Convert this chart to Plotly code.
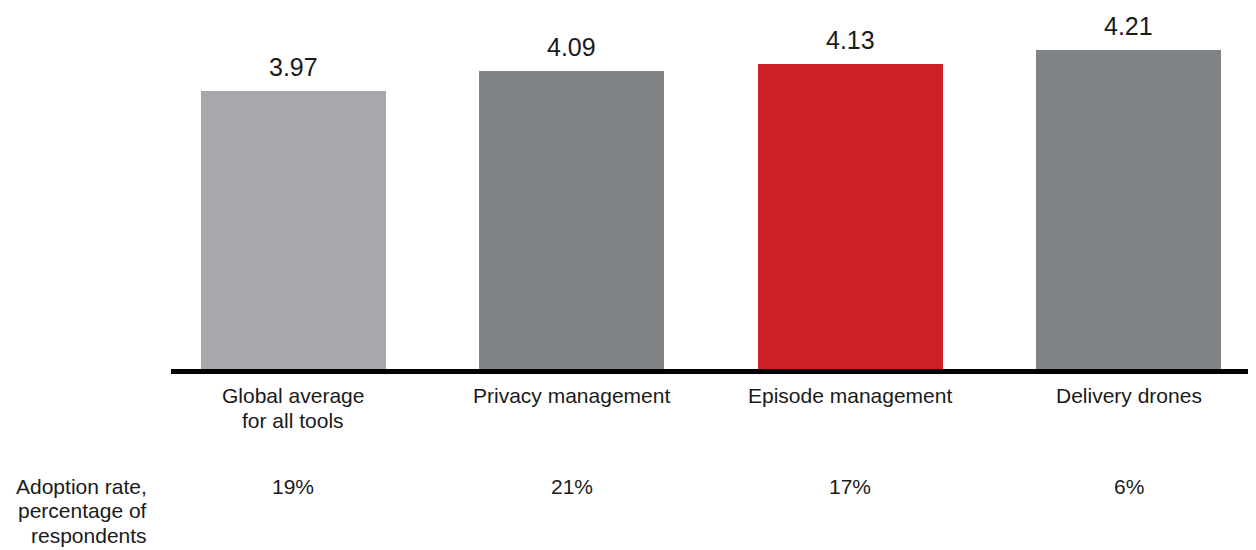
import plotly.graph_objects as go

categories = ["Global average<br>for all tools", "Privacy management", "Episode management", "Delivery drones"]
scores = [3.97, 4.09, 4.13, 4.21]
adoption = ["19%", "21%", "17%", "6%"]
bar_colors = ["#A7A8AB", "#808385", "#CD2027", "#808385"]
row_label = ["Adoption rate,", "percentage of", "respondents"]

FONT = "Arial, Liberation Sans, sans-serif"
TXT = "#1a1a1a"

keys = [c.replace("<br>", " ") for c in categories]

fig = go.Figure()
fig.add_trace(go.Bar(
    x=keys, y=scores, marker=dict(color=bar_colors, line=dict(width=0)),
    width=0.665, hoverinfo="skip", showlegend=False,
))

ann = []
for k, v in zip(keys, scores):
    ann.append(dict(x=k, y=v, xref="x", yref="y", text=f"{v:.2f}", showarrow=False,
                    yanchor="middle", yshift=24, font=dict(family=FONT, size=25, color=TXT)))
for k, c in zip(keys, categories):
    for i, line in enumerate(c.split("<br>")):
        ann.append(dict(x=k, y=0, xref="x", yref="paper", text=line, showarrow=False,
                        yanchor="middle", yshift=-(26 + 25 * i),
                        font=dict(family=FONT, size=21, color=TXT)))
for k, a in zip(keys, adoption):
    ann.append(dict(x=k, y=0, xref="x", yref="paper", text=a, showarrow=False,
                    yanchor="middle", yshift=-117, font=dict(family=FONT, size=21, color=TXT)))
for i, line in enumerate(row_label):
    ann.append(dict(x=-0.0203, y=0, xref="paper", yref="paper", text=line, showarrow=False,
                    xanchor="right", yanchor="middle", yshift=-(117 + 24.5 * i), align="right",
                    font=dict(family=FONT, size=21, color=TXT)))

fig.update_layout(
    width=1248, height=542,
    margin=dict(l=163, r=0, t=2, b=181),
    paper_bgcolor="white", plot_bgcolor="white",
    bargap=0,
    xaxis=dict(type="category", range=[-0.44, 3.458], showticklabels=False, ticks="",
               showgrid=False, zeroline=False, showline=True, linecolor="black", linewidth=5),
    yaxis=dict(range=[2.357, 4.442], visible=False, showgrid=False, zeroline=False),
    annotations=ann,
    font=dict(family=FONT),
)

fig.write_html("out.html")
